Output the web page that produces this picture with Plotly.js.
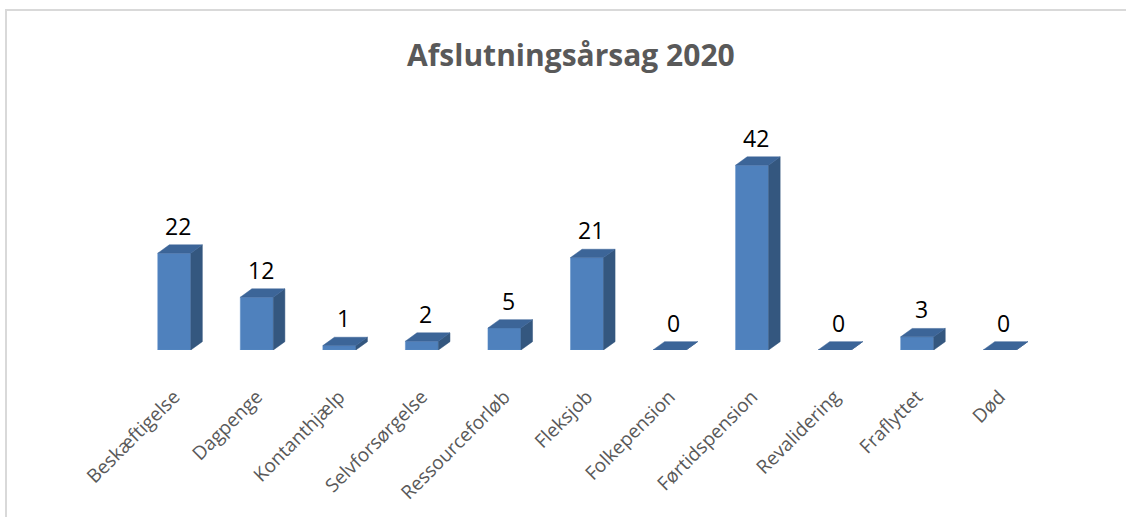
<!DOCTYPE html>
<html>
<head>
<meta charset="utf-8">
<script src="https://cdn.plot.ly/plotly-3.0.1.min.js"></script>
<style>
html,body{margin:0;padding:0;background:#fff;}
#wrap{position:relative;width:1126px;height:517px;overflow:hidden;}
#chart{width:1126px;height:517px;}
#frame{position:absolute;left:5px;top:9px;width:1200px;height:600px;border-top:2px solid #d9d9d9;border-left:2px solid #d9d9d9;pointer-events:none;}
</style>
</head>
<body>
<div id="wrap"><div id="chart"></div><div id="frame"></div></div>
<script>
const categories = ["Beskæftigelse","Dagpenge","Kontanthjælp","Selvforsørgelse","Ressourceforløb","Fleksjob","Folkepension","Førtidspension","Revalidering","Fraflyttet","Død"];
const values = [22,12,1,2,5,21,0,42,0,3,0];

const idx = categories.map((c,i)=>i);
const half = 0.2;   // half bar width (category units)
const dx = 0.14;    // depth offset in x (category units)
const dy = 1.9;     // depth offset in y (value units)

const sideX=[], sideY=[], topX=[], topY=[];
values.forEach((v,i)=>{
  const r = i+half, l = i-half;
  sideX.push(r, r+dx, r+dx, r, r, null);
  sideY.push(0, dy, v+dy, v, 0, null);
  topX.push(l, r, r+dx, l+dx, l, null);
  topY.push(v, v, v+dy, v+dy, v, null);
});

const traces = [
  {type:'scatter', x:sideX, y:sideY, mode:'lines', fill:'toself', fillcolor:'#34577f',
   line:{color:'#34577f', width:0.5}, hoverinfo:'skip', showlegend:false},
  {type:'bar', x:idx, y:values, width:2*half, marker:{color:'#4f81bd', line:{color:'#5b8cc6', width:0.5}},
   hoverinfo:'x+y', showlegend:false},
  {type:'scatter', x:topX, y:topY, mode:'lines', fill:'toself', fillcolor:'#3c6598',
   line:{color:'#3c6598', width:0.5}, hoverinfo:'skip', showlegend:false}
];

const annotations = values.map((v,i)=>({
  x: i + dx/3, y: v + dy, xref:'x', yref:'y', text: String(v), showarrow:false,
  yanchor:'bottom', yshift:1, font:{family:'Open Sans, Liberation Sans, sans-serif', size:23, color:'#000'}
}));

const layout = {
  width:1126, height:517,
  paper_bgcolor:'#fff', plot_bgcolor:'#fff',
  margin:{l:133, r:85, t:130, b:167},
  title:{text:'<b>Afslutningsårsag 2020</b>', x:0.507, xref:'container', y:0.893, yref:'container', xanchor:'center', yanchor:'middle',
         font:{family:'Open Sans, Liberation Sans, sans-serif', size:30, color:'#595959'}},
  xaxis:{range:[-0.5,10.5], tickmode:'array', tickvals:idx, ticktext:categories, tickangle:-45,
         showgrid:false, zeroline:false, showline:false, ticks:'', ticklabelstandoff:31,
         tickfont:{family:'Open Sans, Liberation Sans, sans-serif', size:19, color:'#595959'}, fixedrange:true},
  yaxis:{range:[0,50], showgrid:false, zeroline:false, showline:false, showticklabels:false, ticks:'', fixedrange:true},
  annotations: annotations,
  bargap:0
};

Plotly.newPlot('chart', traces, layout, {displayModeBar:false, staticPlot:true});
</script>
</body>
</html>
